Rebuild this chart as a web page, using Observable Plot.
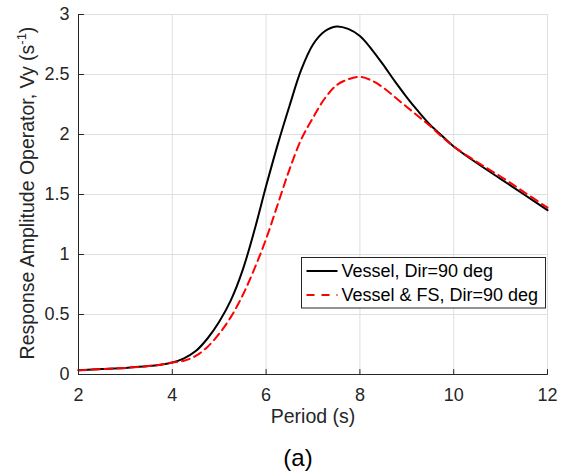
<!DOCTYPE html>
<html><head><meta charset="utf-8">
<script src="https://cdn.jsdelivr.net/npm/d3@7"></script>
<script src="https://cdn.jsdelivr.net/npm/@observablehq/plot@0.6"></script>
<style>
body{margin:0;background:#fff;font-family:"Liberation Sans",Arial,sans-serif;}
#chart{position:absolute;left:0;top:0;}
#cap{position:absolute;left:0;top:440px;width:596px;text-align:center;font-size:24px;line-height:35px;color:#000;}
</style></head><body><div id="chart"></div><div id="cap">(a)</div>
<script>
const period   = [2.0, 2.5, 3.0, 3.5, 3.75, 4.0, 4.25, 4.5, 4.75, 5.0, 5.25, 5.5, 5.75, 6.0, 6.25, 6.5, 6.75, 7.0, 7.25, 7.5, 7.75, 8.0, 8.25, 8.5, 8.75, 9.0, 9.25, 9.5, 9.75, 10.0, 10.5, 11.0, 11.5, 12.0];
const vessel   = [0.035, 0.045, 0.055, 0.07, 0.082, 0.10, 0.135, 0.195, 0.30, 0.44, 0.62, 0.87, 1.20, 1.57, 1.92, 2.24, 2.54, 2.75, 2.86, 2.90, 2.88, 2.82, 2.71, 2.58, 2.44, 2.31, 2.19, 2.08, 1.99, 1.90, 1.76, 1.63, 1.50, 1.37];
const vesselFS = [0.035, 0.045, 0.055, 0.07, 0.082, 0.10, 0.115, 0.155, 0.23, 0.34, 0.48, 0.66, 0.88, 1.13, 1.42, 1.71, 1.96, 2.14, 2.30, 2.41, 2.46, 2.48, 2.45, 2.39, 2.31, 2.23, 2.15, 2.07, 1.98, 1.90, 1.77, 1.65, 1.52, 1.39];
const seriesNames = ["Vessel, Dir=90 deg", "Vessel & FS, Dir=90 deg"];
const xTicks = [2, 4, 6, 8, 10, 12];
const yTicks = [0, 0.5, 1, 1.5, 2, 2.5, 3];
const xLabel = "Period (s)";
const yLabelMain = "Response Amplitude Operator, Vy (s";
const yLabelSup = "-1";
const yLabelEnd = ")";

const black = period.map((p, i) => ({p, v: vessel[i]}));
const red = period.map((p, i) => ({p, v: vesselFS[i]}));
const ink = "#262626";
const tickShape = {draw(context, l) { context.moveTo(0, 0); context.lineTo(0, -l); }};

const plot = Plot.plot({
  width: 566, height: 440,
  marginLeft: 78, marginRight: 19, marginTop: 14, marginBottom: 66,
  style: {fontFamily: "'Liberation Sans', Arial, sans-serif", fontSize: "18px", color: ink, background: "#fff"},
  x: {domain: [xTicks[0], xTicks[xTicks.length - 1]]},
  y: {domain: [yTicks[0], yTicks[yTicks.length - 1]]},
  marks: [
    Plot.gridX(xTicks, {stroke: "#dfdfdf", strokeOpacity: 1}),
    Plot.gridY(yTicks, {stroke: "#dfdfdf", strokeOpacity: 1}),
    Plot.line(black, {x: "p", y: "v", stroke: "#000", strokeWidth: 2, curve: "catmull-rom"}),
    Plot.line(red, {x: "p", y: "v", stroke: "#ff0000", strokeWidth: 2, strokeDasharray: "8,5", curve: "catmull-rom"}),
    Plot.ruleX([xTicks[0]], {stroke: ink}),
    Plot.ruleY([yTicks[0]], {stroke: ink}),
    Plot.vector(xTicks, {x: d => d, y: yTicks[0], length: 5, rotate: 0, anchor: "start", shape: tickShape, stroke: ink, strokeWidth: 1}),
    Plot.vector(yTicks, {x: xTicks[0], y: d => d, length: 5, rotate: 90, anchor: "start", shape: tickShape, stroke: ink, strokeWidth: 1}),
    Plot.axisX(xTicks, {tickSize: 0, tickPadding: 14, label: null, color: ink, tickFormat: d => String(d)}),
    Plot.axisY(yTicks, {tickSize: 0, tickPadding: 9, label: null, color: ink, tickFormat: d => String(d)}),
    Plot.text([xLabel], {frameAnchor: "bottom", dy: 48, text: d => d, fontSize: 19.5, fill: ink})
  ]
});
document.getElementById("chart").appendChild(plot);

const svg = d3.select(plot);
// y-axis label with superscript
const yl = svg.append("text")
  .attr("transform", "translate(34,193) rotate(-90)")
  .attr("text-anchor", "middle")
  .attr("fill", ink)
  .style("font-size", "19.5px");
yl.append("tspan").text(yLabelMain);
yl.append("tspan").attr("dy", -8).style("font-size", "13px").text(yLabelSup);
yl.append("tspan").attr("dy", 8).text(yLabelEnd);

// legend
const lg = svg.append("g").attr("transform", "translate(301.5,257.5)");
lg.append("rect").attr("width", 244).attr("height", 50.5).attr("fill", "#fff").attr("stroke", ink).attr("stroke-width", 1);
lg.append("line").attr("x1", 5).attr("x2", 36).attr("y1", 13.5).attr("y2", 13.5).attr("stroke", "#000").attr("stroke-width", 2);
lg.append("line").attr("x1", 5).attr("x2", 36).attr("y1", 37.5).attr("y2", 37.5).attr("stroke", "#ff0000").attr("stroke-width", 2).attr("stroke-dasharray", "8,7");
seriesNames.forEach((s, i) => {
  lg.append("text").attr("x", 40).attr("y", 13.5 + 24 * i).attr("dy", "0.35em")
    .attr("text-anchor", "start")
    .attr("fill", "#000").style("font-size", "18px").text(s);
});
</script></body></html>
